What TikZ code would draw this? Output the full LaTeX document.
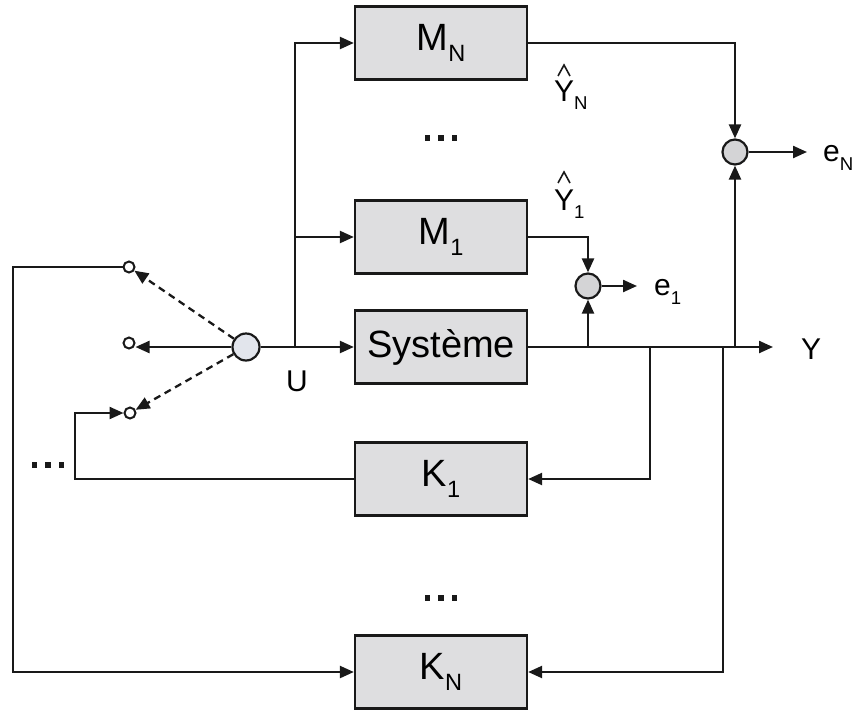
\documentclass[tikz,border=0pt]{standalone}
\usepackage{fontspec}
\setmainfont{Liberation Sans}
\usetikzlibrary{arrows.meta}
\newcommand\lowsub[1]{\raisebox{-0.28em}{\scalebox{0.62}{#1}}}
\newcommand\sqdots{\rule{5.5pt}{5.5pt}\hspace{8pt}\rule{5.5pt}{5.5pt}\hspace{8pt}\rule{5.5pt}{5.5pt}}
\definecolor{boxfill}{RGB}{222,222,224}
\definecolor{sumfill}{RGB}{212,212,214}
\definecolor{swfill}{RGB}{226,229,236}
\definecolor{ink}{RGB}{25,25,25}
\tikzset{
  blk/.style={draw=ink, line width=2.3pt, fill=boxfill, minimum width=172pt, minimum height=73pt, inner sep=0pt, font=\fontsize{38}{40}\selectfont},
  sumc/.style={circle, draw=ink, line width=2.2pt, fill=sumfill, minimum size=25pt, inner sep=0pt},
  swc/.style={circle, draw=ink, line width=2.2pt, fill=swfill, minimum size=27pt, inner sep=0pt},
  contact/.style={circle, draw=ink, line width=2pt, fill=white, minimum size=11pt, inner sep=0pt},
  wire/.style={draw=ink, line width=2.3pt},
  arr/.style={wire, -{Triangle[length=14pt,width=12pt]}},
  lbl/.style={font=\fontsize{30}{34}\selectfont, inner sep=0pt},
  hatl/.style={draw=ink, line width=1.6pt},
  dotsl/.style={inner sep=0pt, text=ink}
}
\begin{document}
\begin{tikzpicture}[x=1pt,y=-1pt]
\useasboundingbox[fill=white] (0,0) rectangle (853,712);
% blocks
\node[blk] (MN) at (441,43) {M\lowsub{N}};
\node[blk] (M1) at (441,237) {M\lowsub{1}};
\node[blk] (sys) at (441,347) {Système};
\node[blk] (K1) at (441,479) {K\lowsub{1}};
\node[blk] (KN) at (441,672) {K\lowsub{N}};
% dots
\node[dotsl] (d1) at (441,138) {\sqdots};
\node[dotsl] (d2) at (441,598) {\sqdots};
\node[dotsl] (d3) at (48,465) {\sqdots};
% switch
\node[swc] (sw) at (246,347) {};
\node[contact] (c1) at (129,267) {};
\node[contact] (c2) at (129,343) {};
\node[contact] (c3) at (130,413) {};
% sums
\node[sumc] (s1) at (588,286) {};
\node[sumc] (sN) at (735,152) {};
% coordinates
\coordinate (uj) at (295,347);
\coordinate (yend) at (773,347);
\coordinate (b1) at (650,347);
\coordinate (b2) at (723,347);
\coordinate (lx) at (13,400);
\coordinate (fx) at (75,450);
\coordinate (e1end) at (637,286);
\coordinate (eNend) at (807,152);
% switch arrows
\draw[arr, dashed, dash pattern=on 7pt off 5pt] (sw) -- (c1);
\draw[arr, dashed, dash pattern=on 7pt off 5pt] (sw) -- (c3);
\draw[arr] (sw.west) -- (c2.east |- sw.west);
% input U
\draw[arr] (sw.east) -- (sys.west);
\draw[arr] (uj) |- (MN.west);
\draw[arr] (uj) |- (M1.west);
\node[lbl] (U) at (297,381) {U};
% output Y
\draw[arr] (sys.east) -- (yend);
\node[lbl] (Y) at (811,349) {Y};
% error sums
\draw[arr] (M1.east) -| (s1.north);
\draw[arr] (s1 |- sys.east) -- (s1.south);
\draw[arr] (MN.east) -| (sN.north);
\draw[arr] (sN |- sys.east) -- (sN.south);
\draw[arr] (s1.east) -- (e1end);
\draw[arr] (sN.east) -- (eNend);
\node[lbl, anchor=west] (e1) at (654,292) {e\lowsub{1}};
\node[lbl, anchor=west] (eN) at (823,158) {e\lowsub{N}};
% hat labels
\node[lbl, anchor=west] (yN) at (554,95) {Y\lowsub{N}};
\draw[hatl] (558,76) -- (564,65) -- (570,76);
\node[lbl, anchor=west] (y1) at (554,204) {Y\lowsub{1}};
\draw[hatl] (558,183) -- (564,172) -- (570,183);
% feedback
\draw[arr] (b1) |- (K1.east);
\draw[arr] (b2) |- (KN.east);
\draw[arr] (K1.west) -| (fx) |- (c3.west);
\draw[arr] (c1.west) -| (lx) |- (KN.west);
\end{tikzpicture}
\end{document}
